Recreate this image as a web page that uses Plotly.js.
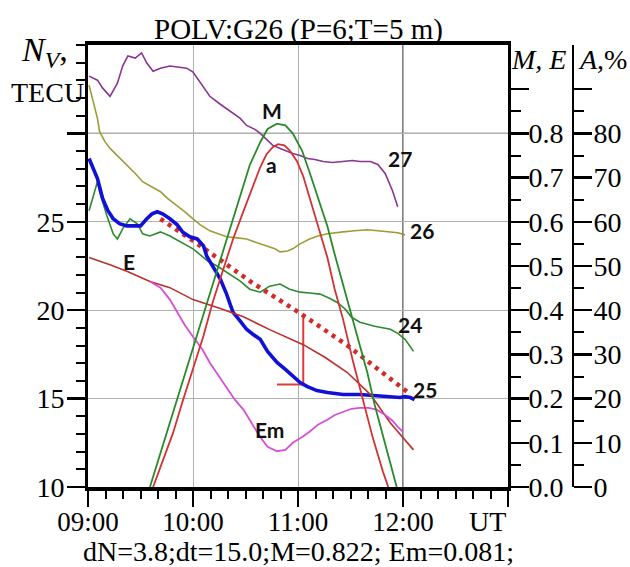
<!DOCTYPE html>
<html><head><meta charset="utf-8">
<script src="https://cdn.plot.ly/plotly-3.0.1.min.js"></script>
<style>html,body{margin:0;padding:0;background:#fff}#chart{width:630px;height:567px}</style>
</head><body><div id="chart"></div>
<script>
// Time in decimal hours (UT)
// Series 27 (TECU)
const t27 = [9.01,9.09,9.14,9.21,9.28,9.33,9.38,9.45,9.51,9.56,9.62,9.69,9.78,9.88,9.94,10.00,10.07,10.16,10.26,10.35,10.45,10.51,10.59,10.64,10.70,10.76,10.83,10.90,10.95,11.02,11.09,11.16,11.24,11.33,11.43,11.52,11.59,11.69,11.76,11.83,11.90,11.95];
const n27 = [33.24,33.01,32.56,32.10,32.84,33.81,34.38,34.26,34.55,33.98,33.52,33.69,33.81,33.75,33.69,33.47,32.90,32.10,31.65,31.25,30.85,30.45,30.23,30.00,29.66,29.32,29.15,28.98,28.86,28.75,28.58,28.52,28.41,28.35,28.41,28.47,28.41,28.41,28.24,27.73,26.76,25.85];
// Series 26
const t26 = [9.01,9.05,9.09,9.11,9.16,9.21,9.29,9.37,9.45,9.52,9.61,9.69,9.76,9.85,9.92,10.00,10.07,10.16,10.24,10.32,10.42,10.51,10.61,10.70,10.78,10.83,10.90,10.95,11.02,11.11,11.19,11.28,11.35,11.43,11.54,11.66,11.76,11.88,11.95,12.02];
const n26 = [32.73,31.70,30.85,30.11,29.55,29.15,28.69,28.18,27.73,27.27,26.99,26.70,26.31,25.91,25.57,25.17,24.83,24.49,24.32,24.15,24.09,24.03,23.81,23.64,23.47,23.30,23.35,23.47,23.75,24.03,24.20,24.32,24.38,24.43,24.49,24.55,24.49,24.43,24.38,24.26];
// Series 25
const t25 = [9.01,9.05,9.09,9.14,9.19,9.24,9.30,9.37,9.43,9.50,9.56,9.61,9.66,9.71,9.78,9.85,9.90,9.97,10.04,10.10,10.13,10.19,10.26,10.32,10.38,10.45,10.51,10.57,10.64,10.71,10.80,10.88,10.95,11.02,11.09,11.18,11.28,11.43,11.59,11.73,11.88,11.97,12.02,12.07,12.11];
const n25 = [28.58,28.01,27.44,26.31,25.63,25.17,24.89,24.77,24.77,24.77,25.17,25.45,25.57,25.45,25.17,24.83,24.43,24.15,24.03,23.64,23.07,22.44,21.76,20.91,19.89,19.38,18.92,18.64,18.35,17.67,17.05,16.65,16.25,15.91,15.68,15.45,15.34,15.23,15.23,15.17,15.06,15.06,15.11,15.06,14.94];
// Series 24
const t24 = [9.01,9.09,9.11,9.18,9.24,9.28,9.33,9.40,9.47,9.52,9.59,9.69,9.78,9.88,10.00,10.07,10.14,10.23,10.32,10.45,10.54,10.64,10.73,10.83,10.92,11.02,11.11,11.21,11.30,11.37,11.45,11.51,11.59,11.73,11.88,11.95,12.02,12.10];
const n24 = [25.63,27.27,26.70,25.34,24.32,24.03,24.60,25.17,24.89,24.32,24.20,24.43,24.20,23.86,23.47,23.13,22.78,22.50,22.16,21.65,21.19,21.02,21.36,21.48,21.19,21.02,20.97,20.91,20.68,20.45,20.06,19.60,19.32,19.09,18.92,18.69,18.35,17.67];
// Trend of series 25 (dotted)
const tTrend = [9.69,10.07,10.57,11.02,11.47,11.88,12.05];
const nTrend = [25.17,23.64,21.53,19.83,18.01,16.14,15.34];
// Eclipse magnitude M
const tM = [9.59,9.78,10.00,10.16,10.32,10.45,10.54,10.64,10.71,10.80,10.88,10.95,11.04,11.11,11.21,11.28,11.35,11.43,11.50,11.59,11.66,11.73,11.80,11.88,11.94];
const vM = [0,0.145,0.315,0.435,0.560,0.658,0.728,0.780,0.810,0.822,0.818,0.800,0.760,0.712,0.639,0.590,0.526,0.458,0.397,0.320,0.259,0.186,0.122,0.052,0];
// Obscuration a (%)
const tA = [9.62,9.71,9.81,9.90,10.00,10.10,10.19,10.29,10.38,10.48,10.57,10.64,10.70,10.76,10.81,10.87,10.92,10.99,11.05,11.11,11.19,11.28,11.35,11.43,11.52,11.62,11.71,11.81,11.86];
const vA = [0,5.67,12.24,19.27,26.53,34.24,41.95,49.21,56.01,62.36,68.25,72.34,75.28,76.87,77.55,77.32,76.19,73.70,70.29,65.53,59.18,51.93,44.67,37.87,28.80,19.73,11.34,3.40,0];
// Solar elevation factor E
const tE = [9.01,9.21,9.37,9.59,9.78,10.00,10.26,10.48,10.73,11.05,11.26,11.47,11.69,11.88,12.10];
const vE = [0.519,0.503,0.488,0.465,0.451,0.424,0.404,0.385,0.356,0.322,0.293,0.259,0.209,0.145,0.084];
// Em
const tEm = [9.59,9.69,9.78,9.85,9.92,10.00,10.09,10.16,10.24,10.32,10.40,10.48,10.56,10.64,10.71,10.80,10.88,10.95,11.04,11.11,11.19,11.28,11.35,11.43,11.51,11.59,11.67,11.75,11.83,11.90,11.95,12.00];
const vEm = [0.465,0.451,0.424,0.395,0.367,0.340,0.311,0.281,0.252,0.224,0.197,0.175,0.143,0.113,0.091,0.081,0.084,0.100,0.113,0.125,0.141,0.152,0.163,0.170,0.177,0.179,0.179,0.175,0.163,0.150,0.136,0.125];
// dN / dt marker
const tDN = [10.80,11.05,11.05];
const nDN = [15.8,15.8,19.6];
// Tick labels
const xTickVals = [9,10,11,12,13];
const xTickText = ['09:00','10:00','11:00','12:00',' '];
const yTickVals = [10,15,20,25,30];
const yTickText = ['10','15','20','25',' '];
const meTickVals = [0,0.1,0.2,0.3,0.4,0.5,0.6,0.7,0.8,0.9];
const meTickText = ['0.0','0.1','0.2','0.3','0.4','0.5','0.6','0.7','0.8',' '];
const meMinor = [0.05,0.15,0.25,0.35,0.45,0.55,0.65,0.75,0.85];
const aTickVals = [0,10,20,30,40,50,60,70,80,90];
const aTickText = ['0','10','20','30','40','50','60','70','80',' '];
const aMinor = [5,15,25,35,45,55,65,75,85];

const serif = 'Liberation Serif, Times New Roman, serif';
const lab = {family:'Lato, DejaVu Sans, sans-serif', size:21, color:'#111'};

const traces = [
  {x:t26, y:n26, yaxis:'y', mode:'lines', line:{color:'#9c9c38', width:1.6}},
  {x:t27, y:n27, yaxis:'y', mode:'lines', line:{color:'#8a3592', width:1.6}},
  {x:t24, y:n24, yaxis:'y', mode:'lines', line:{color:'#2f8a2f', width:1.6}},
  {x:tDN, y:nDN, yaxis:'y', mode:'lines', line:{color:'#e03a3a', width:2}},
  {x:tTrend, y:nTrend, yaxis:'y', mode:'lines', line:{color:'#d42a2a', width:4.5, dash:'4px,5px'}},
  {x:t25, y:n25, yaxis:'y', mode:'lines', line:{color:'#1010d8', width:3.6}},
  {x:tE, y:vE, yaxis:'y2', mode:'lines', line:{color:'#b8312c', width:1.6}},
  {x:tEm, y:vEm, yaxis:'y2', mode:'lines', line:{color:'#d64fd6', width:1.8}},
  {x:tM, y:vM, yaxis:'y2', mode:'lines', line:{color:'#2a8a2a', width:1.8}},
  {x:tA, y:vA, yaxis:'y3', mode:'lines', line:{color:'#d23232', width:1.8}}
];

const dom = 420/485;
const layout = {
  width:630, height:567,
  margin:{l:88, r:57, t:45, b:80, pad:0},
  paper_bgcolor:'#fff', plot_bgcolor:'#fff',
  showlegend:false, hovermode:false,
  font:{family:serif, size:28, color:'#000'},
  xaxis:{domain:[0,dom], range:[9,13], tickmode:'array', tickvals:xTickVals, ticktext:xTickText,
    showline:true, linecolor:'#000', linewidth:4, mirror:true, ticks:'outside', ticklen:16, tickwidth:2.5, tickcolor:'#000',
    showgrid:true, gridcolor:'#b0b0b0', gridwidth:1, zeroline:false, ticklabelstandoff:-8,
    tickfont:{family:serif, size:27},
    minor:{tickmode:'linear', tick0:9, dtick:1/6, ticklen:8, tickwidth:2, tickcolor:'#000', ticks:'outside', showgrid:false}},
  yaxis:{range:[10,35], tickmode:'array', tickvals:yTickVals, ticktext:yTickText,
    showline:true, linecolor:'#000', linewidth:3, ticks:'outside', ticklen:18, tickwidth:2.5, tickcolor:'#000',
    showgrid:true, gridcolor:'#b0b0b0', gridwidth:1, zeroline:false, tickfont:{family:serif, size:28}, ticklabelstandoff:-3,
    minor:{tickmode:'linear', tick0:10, dtick:1, ticklen:9, tickwidth:2, tickcolor:'#000', ticks:'outside', showgrid:false}},
  yaxis2:{overlaying:'y', side:'right', anchor:'x', range:[0,1], tickmode:'array', tickvals:meTickVals, ticktext:meTickText,
    showline:true, linecolor:'#000', linewidth:3, ticks:'outside', ticklen:18, tickwidth:2.5, tickcolor:'#000',
    showgrid:false, zeroline:false, tickfont:{family:serif, size:28}, ticklabelstandoff:-6,
    minor:{tickmode:'array', tickvals:meMinor, ticklen:10, tickwidth:2, tickcolor:'#000', ticks:'outside', showgrid:false}},
  yaxis3:{overlaying:'y', side:'right', anchor:'free', position:1, range:[0,100], tickmode:'array', tickvals:aTickVals, ticktext:aTickText,
    showline:true, linecolor:'#000', linewidth:2, ticks:'outside', ticklen:18, tickwidth:2.5, tickcolor:'#000',
    showgrid:false, zeroline:false, tickfont:{family:serif, size:28}, ticklabelstandoff:-4,
    minor:{tickmode:'array', tickvals:aMinor, ticklen:10, tickwidth:2, tickcolor:'#000', ticks:'outside', showgrid:false}},
  shapes:[
    {type:'line', layer:'below', xref:'x', yref:'y', x0:12, x1:12, y0:10, y1:35, line:{color:'#000', width:1}},
    {type:'line', layer:'below', xref:'x', yref:'y', x0:9, x1:13, y0:30, y1:30, line:{color:'#555', width:1.2}}
  ],
  annotations:[
    {text:'POLV:G26 (P=6;T=5 m)', xref:'x domain', yref:'paper', x:0.5, y:1.034, xanchor:'center', yanchor:'middle', showarrow:false, font:{family:serif, size:29}},
    {text:'dN=3.8;dt=15.0;M=0.822; Em=0.081;', xref:'x domain', yref:'paper', x:0.5, y:-0.145, xanchor:'center', yanchor:'middle', showarrow:false, font:{family:serif, size:28}},
    {text:'UT', xref:'x', yref:'paper', x:13, y:-0.077, xanchor:'right', yanchor:'middle', showarrow:false, font:{family:serif, size:28}},
    {text:'<i>N<sub>V</sub></i>,', xref:'paper', yref:'paper', x:-0.09, y:0.985, xanchor:'center', yanchor:'middle', showarrow:false, font:{family:serif, size:34}},
    {text:'TECU', xref:'paper', yref:'paper', x:-0.004, y:0.893, xanchor:'right', yanchor:'middle', showarrow:false, font:{family:serif, size:28}},
    {text:'<i>M, E</i>', xref:'paper', yref:'paper', x:0.868, y:0.968, xanchor:'left', yanchor:'middle', showarrow:false, font:{family:serif, size:28}},
    {text:'<i>A</i>,%', xref:'paper', yref:'paper', x:1.006, y:0.968, xanchor:'left', yanchor:'middle', showarrow:false, font:{family:serif, size:28}},
    {text:'<b>M</b>', x:10.75, y:31.31, xref:'x', yref:'y', showarrow:false, font:lab},
    {text:'<b>a</b>', x:10.75, y:28.24, xref:'x', yref:'y', showarrow:false, font:lab},
    {text:'<b>27</b>', x:11.97, y:28.58, xref:'x', yref:'y', showarrow:false, font:lab},
    {text:'<b>26</b>', x:12.18, y:24.49, xref:'x', yref:'y', showarrow:false, font:lab},
    {text:'<b>24</b>', x:12.07, y:19.20, xref:'x', yref:'y', showarrow:false, font:lab},
    {text:'<b>25</b>', x:12.21, y:15.51, xref:'x', yref:'y', showarrow:false, font:lab},
    {text:'<b>E</b>', x:9.39, y:22.78, xref:'x', yref:'y', showarrow:false, font:lab},
    {text:'<b>Em</b>', x:10.73, y:13.24, xref:'x', yref:'y', showarrow:false, font:lab}
  ]
};
Plotly.newPlot('chart', traces, layout, {displayModeBar:false, staticPlot:true});
</script></body></html>
